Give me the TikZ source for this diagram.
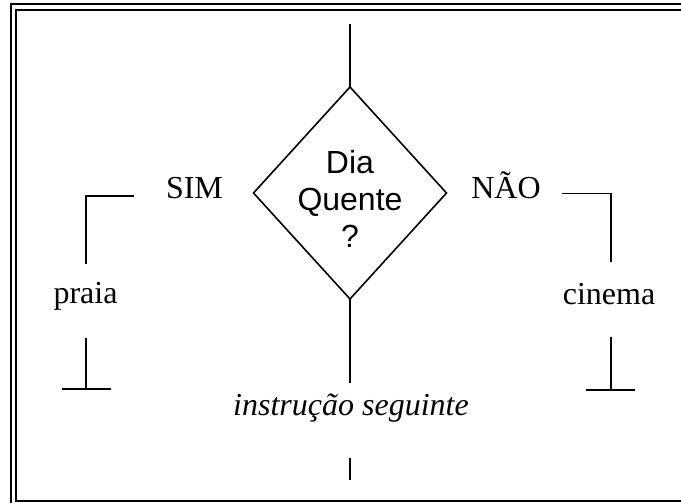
\documentclass[tikz,border=0pt]{standalone}
\usepackage{fontspec}
\setmainfont{Liberation Serif}
\newfontfamily\arialfont{Liberation Sans}
\usetikzlibrary{shapes.geometric}
\tikzset{
  ln/.style={line width=1.6pt, line cap=butt},
  frameline/.style={line width=2pt, color=black},
  lbl/.style={inner sep=0pt, anchor=base, font=\fontsize{32}{37}\selectfont},
  decision/.style={draw, diamond, line width=1.6pt, inner sep=0pt, outer sep=0pt,
    minimum width=193pt, minimum height=212pt},
  qtext/.style={inner sep=0pt, align=center, font=\arialfont\fontsize{32}{37}\selectfont}
}
\begin{document}
\begin{tikzpicture}[x=1pt,y=-1pt]
\useasboundingbox (0,0) rectangle (681,503);
\clip (0,0) rectangle (681,503);
% frame
\draw[frameline] (11,520) -- (11,4.5) -- (700,4.5);
\draw[frameline] (700,500.5) -- (16,500.5) -- (16,10) -- (700,10);
% decision
\node[decision] (d) at (350,193) {};
\node[qtext] (q) at (350,198.5) {Dia\\Quente\\?};
% top and bottom
\coordinate (top) at (350,24);
\coordinate (botend) at (350,383);
\draw[ln] (top) -- (d.north);
\draw[ln] (d.south) -- (botend);
\node[lbl] (next) at (351,415) {\itshape instrução seguinte};
\coordinate (n1) at (350,458);
\coordinate (n2) at (350,480);
\draw[ln] (n1) -- (n2);
% labels
\node[lbl] (sim) at (194.5,198) {SIM};
\node[lbl] (nao) at (506,198) {NÃO};
\node[lbl] (praia) at (85.5,303) {praia};
\node[lbl] (cinema) at (609,304) {cinema};
% left branch
\coordinate (l1) at (134,196);
\coordinate (l2) at (86,196);
\coordinate (l3) at (86,264);
\draw[ln] (l1) -- (l2) -- (l3);
\coordinate (l4) at (86,338);
\coordinate (l5) at (86,389);
\coordinate (l6) at (62,389);
\coordinate (l7) at (111,389);
\draw[ln] (l4) -- (l5);
\draw[ln] (l6) -- (l7);
% right branch
\coordinate (r1) at (562,193.5);
\coordinate (r2) at (611,193.5);
\coordinate (r3) at (611,262);
\draw[ln] (r1) -- (r2) -- (r3);
\coordinate (r4) at (611,337);
\coordinate (r5) at (611,390);
\coordinate (r6) at (586,390);
\coordinate (r7) at (635,390);
\draw[ln] (r4) -- (r5);
\draw[ln] (r6) -- (r7);
\end{tikzpicture}
\end{document}
